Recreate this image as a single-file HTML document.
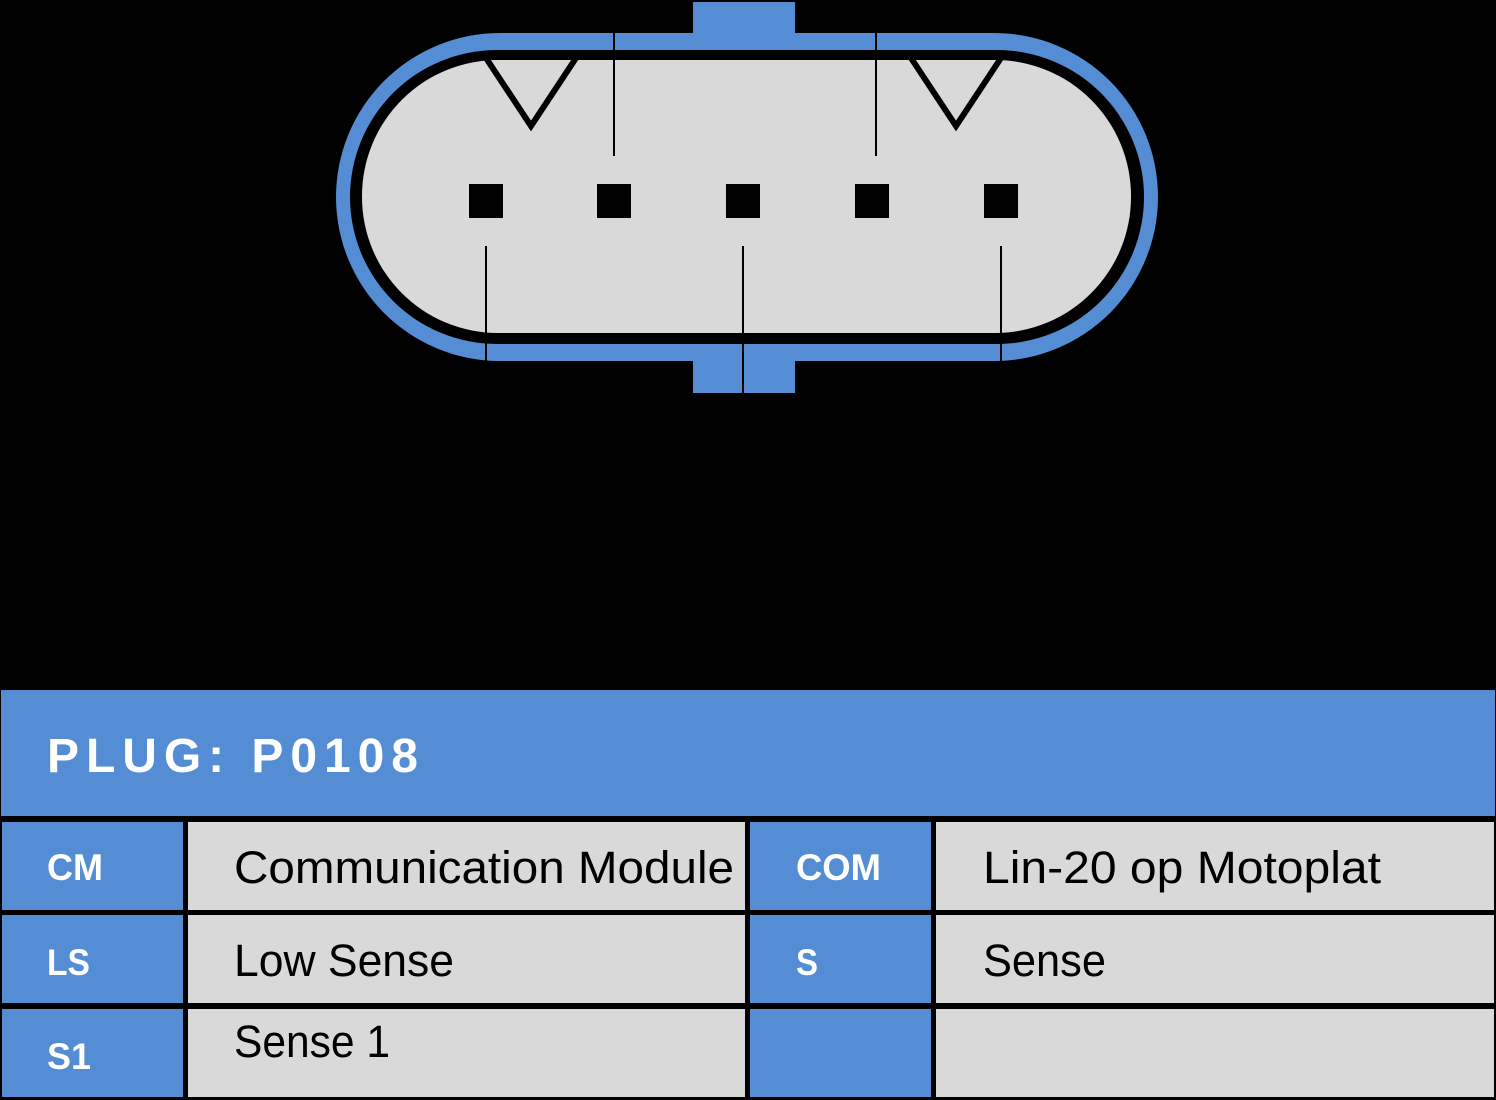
<!DOCTYPE html>
<html><head><meta charset="utf-8"><style>
html,body{margin:0;padding:0;background:#000;}
svg{display:block}
text{font-family:"Liberation Sans",sans-serif;}
</style></head><body>
<svg width="1496" height="1100" viewBox="0 0 1496 1100" xmlns="http://www.w3.org/2000/svg">
<rect width="1496" height="1100" fill="#000"/>
<!-- connector -->
<rect x="693" y="2" width="102" height="40" fill="#548dd4"/>
<rect x="693" y="350" width="102" height="43" fill="#548dd4"/>
<rect x="336" y="33" width="822" height="328" rx="164" fill="#548dd4"/>
<rect x="350" y="50" width="794" height="294" rx="147" fill="#000"/>
<rect x="362" y="60" width="769" height="273" rx="136" fill="#d9d9d9"/>
<g stroke="#000" stroke-width="2">
<line x1="614" y1="33" x2="614" y2="156"/>
<line x1="876" y1="33" x2="876" y2="156"/>
<line x1="486" y1="246" x2="486" y2="361"/>
<line x1="743" y1="246" x2="743" y2="393"/>
<line x1="1001" y1="246" x2="1001" y2="361"/>
</g>
<g fill="none" stroke="#000" stroke-width="6">
<polyline points="486,58 531,126 576,58"/>
<polyline points="911,58 956,126 1001,58"/>
</g>
<g fill="#000">
<rect x="469" y="184" width="34" height="34"/>
<rect x="597" y="184" width="34" height="34"/>
<rect x="726" y="184" width="34" height="34"/>
<rect x="855" y="184" width="34" height="34"/>
<rect x="984" y="184" width="34" height="34"/>
</g>
<!-- table -->
<rect x="1" y="690" width="1494" height="126" fill="#548dd4"/>
<text x="47" y="772" font-size="48" font-weight="bold" fill="#fff" textLength="371" lengthAdjust="spacing">PLUG: P0108</text>
<g fill="#548dd4">
<rect x="2" y="822" width="181" height="88"/>
<rect x="2" y="915" width="181" height="88"/>
<rect x="2" y="1009" width="181" height="88"/>
<rect x="750" y="822" width="181" height="88"/>
<rect x="750" y="915" width="181" height="88"/>
<rect x="750" y="1009" width="181" height="88"/>
</g>
<g fill="#d9d9d9">
<rect x="188" y="822" width="557" height="88"/>
<rect x="188" y="915" width="557" height="88"/>
<rect x="188" y="1009" width="557" height="88"/>
<rect x="936" y="822" width="558" height="88"/>
<rect x="936" y="915" width="558" height="88"/>
<rect x="936" y="1009" width="558" height="88"/>
</g>
<g fill="#fff" font-size="37" font-weight="bold">
<text x="47" y="880" textLength="56" lengthAdjust="spacingAndGlyphs">CM</text>
<text x="47" y="975" textLength="43" lengthAdjust="spacingAndGlyphs">LS</text>
<text x="47" y="1069" textLength="44" lengthAdjust="spacingAndGlyphs">S1</text>
<text x="796" y="880" textLength="85" lengthAdjust="spacingAndGlyphs">COM</text>
<text x="796" y="975" textLength="22" lengthAdjust="spacingAndGlyphs">S</text>
</g>
<g fill="#000" font-size="45">
<text x="234" y="883" textLength="500" lengthAdjust="spacingAndGlyphs">Communication Module</text>
<text x="234" y="976" textLength="220" lengthAdjust="spacingAndGlyphs">Low Sense</text>
<text x="234" y="1057" textLength="156" lengthAdjust="spacingAndGlyphs">Sense 1</text>
<text x="983" y="883" textLength="398" lengthAdjust="spacingAndGlyphs">Lin-20 op Motoplat</text>
<text x="983" y="976" textLength="123" lengthAdjust="spacingAndGlyphs">Sense</text>
</g>
</svg>
</body></html>
